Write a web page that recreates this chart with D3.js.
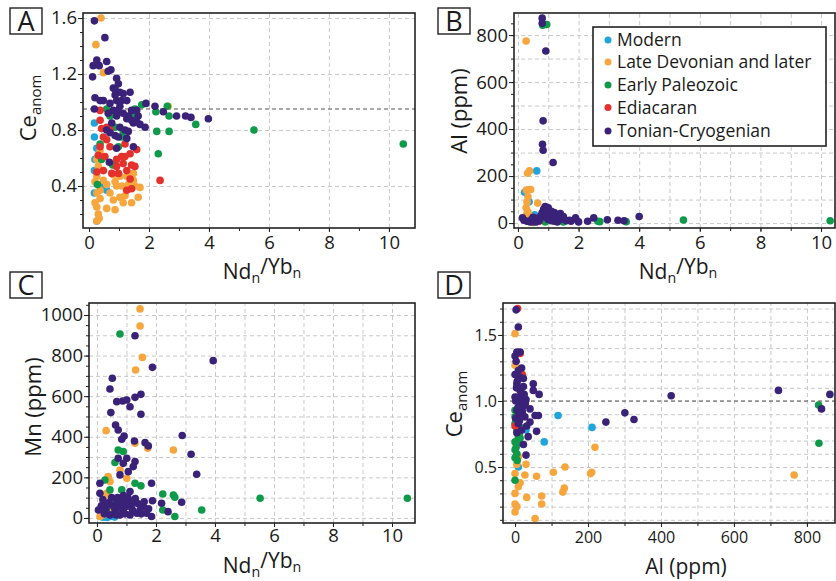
<!DOCTYPE html>
<html>
<head>
<meta charset="utf-8">
<script src="https://cdn.jsdelivr.net/npm/d3@7"></script>
<style>
body { margin: 0; background: #fff; }
text { font-family: "Open Sans", sans-serif; fill: #1a1a1a; }
</style>
</head>
<body>
<svg width="836" height="581"></svg>
<script>
var groups = ["Modern", "Late Devonian and later", "Early Paleozoic", "Ediacaran", "Tonian-Cryogenian"];
var colors = ["#1fa5dc", "#f7a63e", "#0e9a48", "#e4312b", "#3b2279"];

// panel A : Nd/Yb vs Ce anom
var aModern = [[0.18,0.85],[0.18,0.75],[0.26,0.67],[0.18,0.51],[0.18,0.35],[0.59,0.37],[0.48,0.40],[0.26,0.15],[0.2,0.59]];
var aLateDev = [[0.4,1.60],[0.23,1.41],[0.48,1.21],[2.64,0.97],[1.7,0.39],[1.64,0.32],[1.42,0.28],[1.14,0.28],[0.87,0.23],[0.59,0.24],[0.81,0.30],[1.03,0.32],[0.26,0.15],[0.31,0.20],[0.2,0.28],[0.37,0.31],[0.26,0.35],[0.37,0.37],[0.59,0.41],[0.87,0.43],[1.09,0.40],[1.31,0.41],[1.48,0.44],[1.26,0.47],[1.03,0.47],[0.81,0.48],[0.26,0.47],[0.31,0.54],[0.26,0.59],[0.37,0.65],[1.48,0.49],[0.48,0.44],[0.2,0.43],[0.26,0.25],[0.34,0.17],[1.53,0.40],[0.92,0.40],[0.7,0.35],[1.2,0.33]];
var aEarlyPz = [[10.48,0.70],[5.5,0.80],[3.56,0.84],[2.67,0.79],[2.26,0.79],[2.31,0.63],[2.23,0.93],[2.61,0.97],[2.67,0.90],[1.76,0.98],[1.53,0.95],[1.53,0.90],[1.14,0.79],[0.98,0.68],[0.70,0.90],[0.59,0.95],[0.37,0.70],[0.42,0.59],[0.28,0.41],[0.79,0.55],[0.87,0.82],[1.09,0.75]];
var aEdiacaran = [[2.37,0.44],[1.59,0.66],[1.37,0.63],[1.2,0.70],[0.37,0.87],[0.42,0.81],[0.48,0.75],[0.37,0.68],[0.59,0.73],[0.7,0.68],[0.53,0.61],[0.26,0.50],[0.48,0.51],[0.92,0.54],[1.14,0.56],[1.42,0.55],[1.53,0.54],[1.26,0.51],[1.37,0.45],[1.42,0.38],[1.26,0.37],[0.37,0.94],[0.7,0.80],[0.31,0.62],[0.92,0.59],[1.09,0.61],[0.76,0.49],[0.59,0.82],[1.2,0.61],[0.98,0.49]];
var aTonian = [[0.18,1.58],[0.53,1.46],[0.12,1.18],[0.14,1.26],[0.26,1.30],[0.34,1.26],[0.59,1.29],[0.73,1.23],[0.64,1.22],[0.92,1.17],[0.98,1.13],[0.2,1.03],[0.18,0.95],[0.48,1.01],[0.81,1.10],[0.87,1.05],[1.03,1.07],[1.14,1.06],[1.37,1.07],[1.26,1.01],[0.92,1.01],[0.7,0.99],[1.03,0.97],[0.81,0.94],[1.14,0.92],[1.42,0.94],[0.92,0.90],[1.26,0.88],[0.76,0.85],[1.03,0.82],[1.48,0.85],[1.7,0.84],[1.87,0.82],[1.9,0.99],[2.2,0.97],[2.48,0.93],[2.92,0.90],[3.22,0.90],[3.4,0.89],[3.98,0.88],[0.7,0.78],[0.98,0.75],[1.26,0.74],[1.48,0.68],[0.92,0.67],[0.68,0.57],[1.2,0.80],[0.87,0.76],[1.31,0.79],[0.59,0.80],[1.64,0.90],[1.59,0.94],[0.37,1.01],[0.64,0.92],[0.98,0.94],[1.09,1.01],[0.87,1.09],[1.31,0.90],[1.42,0.87],[1.59,0.86]];

// panel B : Nd/Yb vs Al
var bModern = [[0.62,222],[0.22,131],[0.37,91],[0.55,35],[0.6,28]];
var bLateDev = [[0.27,775],[0.32,212],[0.38,222],[0.28,140],[0.36,142],[0.42,143],[0.33,112],[0.3,90],[0.27,65],[0.33,48],[0.28,35],[0.65,85],[0.4,30],[0.3,20]];
var bEarlyPz = [[0.82,842],[0.95,845],[10.3,10],[5.46,13],[3.57,6],[2.7,6],[2.64,8],[1.5,5],[0.5,3],[0.9,5]];
var bEdiacaran = [[0.5,5],[0.7,8]];
var bTonian = [[0.8,872],[0.8,850],[0.92,732],[0.83,435],[0.81,335],[0.83,310],[1.16,258],[4.0,28],[3.5,10],[3.3,12],[2.95,14],[2.5,22],[2.3,8],[1.9,18],[1.7,12],[1.5,20],[0.15,22],[0.2,12],[0.3,8],[0.45,15],[0.6,20],[0.7,10],[0.75,30],[0.8,45],[0.85,60],[0.9,70],[0.95,55],[1.0,65],[1.05,40],[1.1,50],[1.15,30],[1.2,45],[1.25,20],[1.3,35],[1.4,15],[1.5,28],[1.6,10],[1.75,8],[1.9,22],[1.0,15],[0.9,25],[1.1,10],[0.6,5],[0.4,5],[1.3,5],[0.95,35],[1.2,8],[0.5,25],[1.4,40],[2.0,5]];

// panel C : Nd/Yb vs Mn
var cModern = [[0.3,5],[0.5,8],[0.2,3],[0.35,2],[0.6,4]];
var cLateDev = [[1.46,1030],[1.46,946],[1.54,791],[1.31,729],[0.31,430],[2.59,335],[1.29,368],[1.72,343],[0.78,236],[0.38,204],[0.44,179],[1.01,195],[0.33,121],[0.21,56],[0.33,31],[0.55,48],[0.1,7],[0.44,89],[0.25,25],[0.4,60],[0.2,15]];
var cEarlyPz = [[0.78,906],[10.52,97],[5.53,97],[3.55,39],[2.64,7],[2.59,113],[2.64,102],[2.23,118],[2.23,39],[1.29,171],[1.49,158],[0.72,335],[0.89,327],[0.61,273],[0.44,138],[0.84,138],[0.55,89],[0.27,187],[1.0,56],[0.33,48]];
var cEdiacaran = [];
var cTonian = [[1.29,898],[3.94,775],[1.88,742],[0.52,688],[0.44,635],[1.49,609],[1.29,594],[1.01,581],[0.67,573],[0.87,576],[1.12,548],[0.47,519],[1.49,511],[0.63,458],[0.72,433],[0.92,404],[0.84,388],[1.27,379],[2.89,406],[1.63,371],[1.74,355],[3.19,314],[3.38,215],[1.01,294],[1.29,278],[0.72,294],[0.89,269],[1.23,253],[1.06,228],[0.78,212],[1.12,130],[1.85,171],[1.88,85],[2.19,72],[2.87,77],[2.41,31],[0.1,171],[0.1,121],[0.05,39],[0.33,64],[0.67,72],[0.89,39],[1.23,72],[1.46,39],[1.68,23],[1.85,7],[0.78,15],[1.12,15],[1.35,23],[0.44,15],[1.0,89],[0.61,39],[1.57,56],[0.95,56],[0.2,90],[0.15,60],[0.25,20],[0.5,100],[0.55,60],[0.7,100],[0.75,50],[0.85,80],[0.95,20],[1.05,100],[1.1,60],[1.2,40],[1.3,95],[1.4,70],[1.5,20],[1.6,80],[0.3,45],[0.4,75],[0.65,15],[1.75,45],[0.9,110],[1.15,85]];

// panel D : Al vs Ce anom
var dModern = [[118,0.89],[211,0.80],[80,0.69],[30,0.78],[9,0.50]];
var dLateDev = [[765,0.44],[219,0.65],[207,0.45],[210,0.46],[137,0.50],[135,0.34],[131,0.31],[105,0.46],[73,0.28],[73,0.22],[55,0.11],[59,0.43],[32,0.27],[30,0.52],[27,0.44],[14,0.38],[9,0.35],[0,1.51],[0,0.30],[0,0.16],[5,0.20],[0,0.22],[0,0.45],[5,0.52],[9,0.58],[0,1.27]];
var dEarlyPz = [[832,0.97],[833,0.68],[0,0.40],[0,0.57],[0,0.63],[0,0.69],[9,0.73],[5,0.78],[0,0.83],[0,0.88],[14,0.72],[5,0.60],[0,0.93],[3,0.65],[8,0.68],[12,0.75],[2,0.85],[15,0.80],[6,0.55]];
var dEdiacaran = [[7,1.70],[14,1.36],[9,1.18],[7,1.03],[0,0.81],[14,0.78],[10,0.95],[5,1.10],[20,1.20],[15,1.00]];
var dTonian = [[863,1.05],[722,1.08],[840,0.94],[428,1.04],[326,0.86],[301,0.91],[249,0.84],[3,1.69],[9,1.56],[5,1.37],[0,1.34],[3,1.30],[14,1.37],[18,1.25],[0,1.20],[14,1.18],[23,1.17],[50,1.13],[50,1.08],[66,1.05],[64,0.89],[55,0.89],[41,0.94],[59,0.77],[23,0.67],[30,0.59],[32,0.81],[14,1.08],[0,1.03],[14,0.98],[5,0.93],[23,0.96],[27,0.88],[9,0.83],[18,0.78],[36,0.73],[5,1.13],[23,1.11],[30,1.01],[9,1.23],[18,1.06],[5,0.76],[41,0.84],[2,1.00],[8,0.95],[12,0.90],[4,1.10],[16,1.02],[20,0.92],[2,0.87],[6,1.15],[25,1.05],[12,0.85],[28,0.98]];

var svg = d3.select("svg");

function range(a, b, s) {
    var out = [];
    for (var v = a; v <= b + s / 1000; v += s) out.push(+v.toFixed(4));
    return out;
}

var panels = [
    {name: "A", left: 83, top: 13, right: 415, bottom: 228, xDom: [-0.2, 10.87], yDom: [0.1, 1.636],
     series: [aModern, aLateDev, aEarlyPz, aEdiacaran, aTonian],
     xMajor: range(0, 10, 2), xMinor: range(0, 10, 1), xGrid: range(2, 10, 2),
     yMajor: [0.4, 0.8, 1.2, 1.6], yMinor: range(0.2, 1.6, 0.1), yGrid: [0.4, 0.8, 1.2, 1.6],
     xFmt: d3.format("d"), yFmt: d3.format(".1f"), ref: 0.95, fs: 18.5,
     box: [10, 8], xPad: 4, xTitleY: 279, yTitleX: 36, xTitleX: 262, yTitleY: 108,
     xTitle: "ndyb", yTitle: "ce"},
    {name: "B", left: 514, top: 13, right: 835, bottom: 228, xDom: [-0.13, 10.46], yDom: [-21, 894],
     series: [bModern, bLateDev, bEarlyPz, bEdiacaran, bTonian],
     xMajor: range(0, 10, 2), xMinor: range(0, 10, 1), xGrid: range(0, 10, 1),
     yMajor: range(0, 800, 200), yMinor: range(0, 850, 50), yGrid: range(0, 800, 100),
     xFmt: d3.format("d"), yFmt: d3.format("d"), ref: null, fs: 18.5,
     box: [438, 8], xPad: 4, xTitleY: 279, yTitleX: 467, xTitleX: 678, yTitleY: 111,
     xTitle: "ndyb", yTitle: "Al (ppm)"},
    {name: "C", left: 89, top: 303, right: 415, bottom: 523, xDom: [-0.27, 10.78], yDom: [-25, 1059],
     series: [cModern, cLateDev, cEarlyPz, cEdiacaran, cTonian],
     xMajor: range(0, 10, 2), xMinor: range(0, 10, 1), xGrid: range(0, 10, 1),
     yMajor: range(0, 1000, 200), yMinor: range(0, 1050, 50), yGrid: range(0, 1000, 100),
     xFmt: d3.format("d"), yFmt: d3.format("d"), ref: null, fs: 18.5,
     box: [10, 272], xPad: 2, xTitleY: 573, yTitleX: 41, xTitleX: 262, yTitleY: 407,
     xTitle: "ndyb", yTitle: "Mn (ppm)"},
    {name: "D", left: 503, top: 303, right: 835, bottom: 523, xDom: [-33, 877], yDom: [0.076, 1.742],
     series: [dModern, dLateDev, dEarlyPz, dEdiacaran, dTonian],
     xMajor: range(0, 800, 200), xMinor: range(0, 800, 100), xGrid: range(100, 800, 100),
     yMajor: [0.5, 1.0, 1.5], yMinor: range(0.1, 1.7, 0.1), yGrid: range(0.1, 1.7, 0.1),
     xFmt: d3.format("d"), yFmt: d3.format(".1f"), ref: 1.0, fs: 16,
     box: [438, 272], xPad: 5, xTitleY: 574, yTitleX: 462, xTitleX: 686, yTitleY: 404,
     xTitle: "Al (ppm)", yTitle: "ce"}
];

function title(sel, kind, size) {
    if (kind == "ndyb") {
        sel.append("tspan").text("Nd");
        sel.append("tspan").attr("font-size", size * 0.68).attr("dy", "0.3em").text("n");
        sel.append("tspan").attr("dy", "-0.44em").text("/Yb");
        sel.append("tspan").attr("font-size", size * 0.68).attr("dy", "0.3em").text("n");
    } else if (kind == "ce") {
        sel.append("tspan").text("Ce");
        sel.append("tspan").attr("font-size", size * 0.68).attr("dy", "0.3em").text("anom");
    } else {
        sel.text(kind);
    }
}

panels.forEach(function(p) {
    var x = d3.scaleLinear().domain(p.xDom).range([p.left, p.right]);
    var y = d3.scaleLinear().domain(p.yDom).range([p.bottom, p.top]);
    var g = svg.append("g");
    var h = p.bottom - p.top, w = p.right - p.left;

    // grid
    g.append("g")
        .attr("transform", "translate(0," + p.bottom + ")")
        .call(d3.axisBottom(x).tickValues(p.xGrid).tickSize(-h).tickFormat(""))
        .call(function(s) { s.select(".domain").remove(); })
        .selectAll("line").attr("stroke", "#c9c9c9").attr("stroke-dasharray", "4,3");
    g.append("g")
        .attr("transform", "translate(" + p.left + ",0)")
        .call(d3.axisLeft(y).tickValues(p.yGrid).tickSize(-w).tickFormat(""))
        .call(function(s) { s.select(".domain").remove(); })
        .selectAll("line").attr("stroke", "#c9c9c9").attr("stroke-dasharray", "4,3");

    if (p.ref != null) {
        g.append("line")
            .attr("x1", p.left).attr("x2", p.right)
            .attr("y1", y(p.ref)).attr("y2", y(p.ref))
            .attr("stroke", "#555").attr("stroke-width", 1.2)
            .attr("stroke-dasharray", "4,3");
    }

    // points
    p.series.forEach(function(s, i) {
        g.append("g").selectAll("circle")
            .data(s)
            .join("circle")
            .attr("cx", function(d) { return x(d[0]); })
            .attr("cy", function(d) { return y(d[1]); })
            .attr("r", 3.8)
            .attr("fill", colors[i]);
    });

    // minor ticks
    g.append("g")
        .attr("transform", "translate(0," + p.bottom + ")")
        .call(d3.axisBottom(x).tickValues(p.xMinor).tickSize(3).tickFormat(""))
        .call(function(s) { s.select(".domain").remove(); });
    g.append("g")
        .attr("transform", "translate(" + p.left + ",0)")
        .call(d3.axisLeft(y).tickValues(p.yMinor).tickSize(3).tickFormat(""))
        .call(function(s) { s.select(".domain").remove(); });

    // labelled ticks
    var xa = g.append("g")
        .attr("transform", "translate(0," + p.bottom + ")")
        .call(d3.axisBottom(x).tickValues(p.xMajor).tickSize(4).tickPadding(p.xPad).tickFormat(p.xFmt));
    xa.select(".domain").remove();
    xa.selectAll("text").attr("font-size", p.fs).attr("font-family", "Open Sans");
    var ya = g.append("g")
        .attr("transform", "translate(" + p.left + ",0)")
        .call(d3.axisLeft(y).tickValues(p.yMajor).tickSize(5).tickPadding(1).tickFormat(p.yFmt));
    ya.select(".domain").remove();
    ya.selectAll("text").attr("font-size", p.fs).attr("font-family", "Open Sans");
    g.selectAll(".tick line").filter(function() { return !d3.select(this).attr("stroke-dasharray"); })
        .attr("stroke", "#222");

    // frame
    g.append("rect")
        .attr("x", p.left).attr("y", p.top)
        .attr("width", w).attr("height", h)
        .attr("fill", "none").attr("stroke", "#222").attr("stroke-width", 1.6);

    // titles
    var xt = g.append("text")
        .attr("x", p.xTitleX).attr("y", p.xTitleY)
        .attr("text-anchor", "middle").attr("font-size", 21);
    title(xt, p.xTitle, 21);
    var yt = g.append("text")
        .attr("transform", "translate(" + p.yTitleX + "," + p.yTitleY + ") rotate(-90)")
        .attr("text-anchor", "middle").attr("font-size", 22);
    title(yt, p.yTitle, 22);

    // panel letter
    g.append("rect")
        .attr("x", p.box[0]).attr("y", p.box[1])
        .attr("width", 32).attr("height", 26)
        .attr("fill", "#fff").attr("stroke", "#222").attr("stroke-width", 1.4);
    g.append("text")
        .attr("x", p.box[0] + 16).attr("y", p.box[1] + 23)
        .attr("text-anchor", "middle").attr("font-size", 27)
        .text(p.name);
});

// legend inside panel B
var leg = svg.append("g");
leg.append("rect")
    .attr("x", 593).attr("y", 27).attr("width", 233).attr("height", 119)
    .attr("fill", "#fff").attr("stroke", "#222").attr("stroke-width", 1.6);
var rowY = [40, 62, 85, 107.5, 131];
groups.forEach(function(name, i) {
    leg.append("circle").attr("cx", 608).attr("cy", rowY[i]).attr("r", 3.5).attr("fill", colors[i]);
    leg.append("text").attr("x", 617).attr("y", rowY[i] + 6)
        .attr("font-size", 17.5).text(name);
});
</script>
</body>
</html>
